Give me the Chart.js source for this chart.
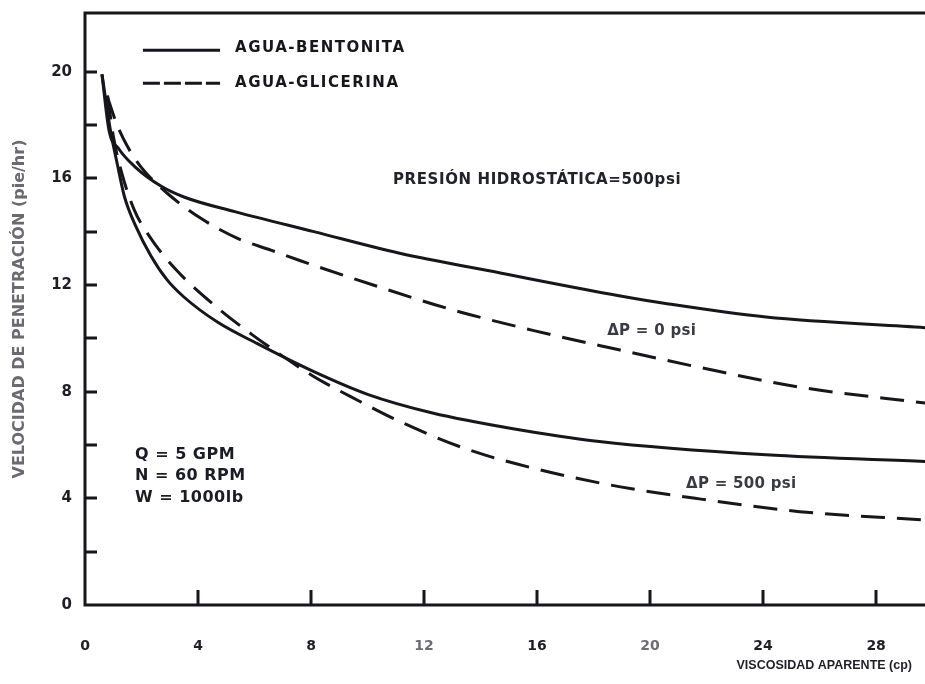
<!DOCTYPE html>
<html><head><meta charset="utf-8">
<script src="https://cdn.jsdelivr.net/npm/chart.js@4.4.1/dist/chart.umd.min.js"></script>
<style>html,body{margin:0;padding:0;background:#fff}</style>
</head><body>
<canvas id="c" width="925" height="684"></canvas>
<script>
// ---- data ----
const xTickValues = [0, 4, 8, 12, 16, 20, 24, 28];
const yTickValues = [0, 4, 8, 12, 16, 20];
const yMinorTicks = [2, 4, 6, 8, 10, 12, 14, 16, 18, 20];

const bentonita0X = [0.6, 0.85, 1.2, 1.75, 2.7, 3.5, 5.3, 8.1, 11.1, 14.7, 18.9, 20.6, 24.1, 29.75];
const bentonita0Y = [19.9, 17.8, 17.1, 16.45, 15.7, 15.3, 14.75, 14.0, 13.2, 12.45, 11.6, 11.3, 10.8, 10.4];

const glicerina0X = [0.78, 1.1, 1.5, 2.0, 2.9, 4.1, 5.4, 6.6, 7.6, 10.2, 12.9, 15.85, 18.9, 21.8, 25.3, 29.75];
const glicerina0Y = [19.1, 18.1, 17.2, 16.4, 15.45, 14.5, 13.75, 13.3, 12.92, 12.0, 11.1, 10.3, 9.57, 8.9, 8.17, 7.57];

const bentonita500X = [0.6, 0.9, 1.15, 1.4, 1.8, 2.33, 2.9, 3.5, 4.7, 6.1, 8.1, 10.0, 12.3, 15.1, 18.2, 24.1, 29.75];
const bentonita500Y = [19.9, 17.8, 16.5, 15.3, 14.2, 13.1, 12.2, 11.55, 10.6, 9.8, 8.75, 7.9, 7.2, 6.62, 6.13, 5.63, 5.38];

const glicerina500X = [0.8, 1.0, 1.3, 1.75, 2.33, 3.2, 4.68, 5.9, 6.4, 8.05, 9.7, 11.1, 13.5, 16.1, 18.9, 21.8, 25.3, 29.75];
const glicerina500Y = [19.1, 17.6, 16.2, 14.8, 13.75, 12.6, 11.15, 10.15, 9.77, 8.6, 7.65, 6.9, 5.85, 5.07, 4.44, 3.97, 3.5, 3.19];

const seriesNames = ['AGUA-BENTONITA', 'AGUA-GLICERINA'];
const conditionLines = ['Q = 5 GPM', 'N = 60 RPM', 'W = 1000lb'];
const pressureNote = 'PRESIÓN HIDROSTÁTICA=500psi';
const curveNotes = ['ΔP = 0 psi', 'ΔP = 500 psi'];
const xTitle = 'VISCOSIDAD APARENTE (cp)';
const yTitle = 'VELOCIDAD DE PENETRACIÓN (pie/hr)';

// ---- helpers ----
const pts = (xs, ys) => xs.map((x, i) => ({ x, y: ys[i] }));
const INK = '#16161c';
const DASH = [24, 12];

function ds(label, xs, ys, dashed) {
  return {
    label, data: pts(xs, ys),
    borderColor: INK, borderWidth: 3,
    borderDash: dashed ? DASH : [],
    pointRadius: 0, cubicInterpolationMode: 'monotone',
    fill: false, clip: { left: 0, top: 0, right: 14, bottom: 0 }
  };
}

const decorPlugin = {
  id: 'decor',
  afterDatasetsDraw(chart) {
    const { ctx, chartArea: a, scales: { x, y } } = chart;
    const W = chart.width;
    ctx.save();
    ctx.strokeStyle = INK;
    ctx.lineWidth = 3;
    ctx.lineCap = 'butt';
    // frame: top, left, bottom (right side cut off in reference)
    ctx.beginPath();
    ctx.moveTo(W, a.top); ctx.lineTo(a.left, a.top);
    ctx.lineTo(a.left, a.bottom); ctx.lineTo(W, a.bottom);
    ctx.stroke();
    // inward tick marks
    ctx.beginPath();
    yMinorTicks.forEach(v => { const py = Math.round(y.getPixelForValue(v)); ctx.moveTo(a.left, py); ctx.lineTo(a.left + 12, py); });
    xTickValues.slice(1).forEach(v => { const px = Math.round(x.getPixelForValue(v)); ctx.moveTo(px, a.bottom); ctx.lineTo(px, a.bottom - 15); });
    ctx.stroke();

    // legend
    const lx0 = x.getPixelForValue(2.05), lx1 = x.getPixelForValue(4.78), tx = x.getPixelForValue(5.31);
    const ly = [y.getPixelForValue(20.8), y.getPixelForValue(19.57)];
    ctx.lineWidth = 3;
    ctx.beginPath(); ctx.setLineDash([]); ctx.moveTo(lx0, ly[0]); ctx.lineTo(lx1, ly[0]); ctx.stroke();
    ctx.beginPath(); ctx.setLineDash([17, 4]); ctx.moveTo(lx0, ly[1]); ctx.lineTo(lx1, ly[1]); ctx.stroke();
    ctx.setLineDash([]);
    ctx.fillStyle = INK;
    ctx.textBaseline = 'middle';
    ctx.textAlign = 'left';
    ctx.font = "bold 15px 'DejaVu Sans', sans-serif";
    ctx.letterSpacing = '1.5px';
    ctx.fillText(seriesNames[0], tx, ly[0] - 2);
    ctx.fillText(seriesNames[1], tx, ly[1]);

    // pressure note
    ctx.letterSpacing = '0.6px';
    ctx.fillStyle = '#22222c';
    ctx.fillText(pressureNote, x.getPixelForValue(10.9), y.getPixelForValue(15.94));

    // curve notes
    ctx.letterSpacing = '0.3px';
    ctx.fillStyle = '#3a3a46';
    ctx.fillText(curveNotes[0], x.getPixelForValue(18.48), y.getPixelForValue(10.27));
    ctx.fillText(curveNotes[1], x.getPixelForValue(21.27), y.getPixelForValue(4.54));

    // operating conditions
    ctx.font = "bold 16px 'DejaVu Sans', sans-serif";
    ctx.letterSpacing = '0.5px';
    ctx.fillStyle = '#1c1c26';
    const cy = [5.63, 4.85, 4.03];
    conditionLines.forEach((t, i) => ctx.fillText(t, x.getPixelForValue(1.77), y.getPixelForValue(cy[i])));
    ctx.restore();
  }
};

const lightTicks = [12, 20];

new Chart(document.getElementById('c'), {
  type: 'line',
  data: {
    datasets: [
      ds(seriesNames[0] + ' ΔP=0', bentonita0X, bentonita0Y, false),
      ds(seriesNames[1] + ' ΔP=0', glicerina0X, glicerina0Y, true),
      ds(seriesNames[0] + ' ΔP=500', bentonita500X, bentonita500Y, false),
      ds(seriesNames[1] + ' ΔP=500', glicerina500X, glicerina500Y, true)
    ]
  },
  options: {
    responsive: false,
    animation: false,
    events: [],
    layout: { padding: { left: 0, right: 13, top: 13, bottom: 0 } },
    plugins: { legend: { display: false }, tooltip: { enabled: false } },
    scales: {
      x: {
        type: 'linear', min: 0, max: 29.27,
        afterBuildTicks: s => { s.ticks = xTickValues.map(v => ({ value: v })); },
        afterFit: s => { s.height = 79; s.paddingLeft = 0; s.paddingRight = 0; },
        grid: { display: false, drawTicks: false },
        border: { display: false },
        ticks: { padding: 33,
                 color: c => lightTicks.includes(c.tick && c.tick.value) ? '#6c6c74' : '#1e1e26',
                 font: { family: "'DejaVu Sans', sans-serif", size: 14, weight: 'bold' }, maxRotation: 0 },
        title: { display: true, text: xTitle, align: 'end', color: '#1e1e26',
                 font: { family: "'Liberation Sans', sans-serif", size: 12.5, weight: 'bold' },
                 padding: { top: 0, bottom: 11 } }
      },
      y: {
        type: 'linear', min: 0, max: 22.2,
        afterBuildTicks: s => { s.ticks = yTickValues.map(v => ({ value: v })); },
        afterFit: s => { s.width = 85; s.paddingTop = 0; s.paddingBottom = 0; },
        grid: { display: false, drawTicks: false },
        border: { display: false },
        ticks: { padding: 13, color: '#1e1e26', font: { family: "'DejaVu Sans', sans-serif", size: 15, weight: 'bold' } },
        title: { display: true, text: yTitle, color: '#6a6a70',
                 font: { family: "'DejaVu Sans', sans-serif", size: 16, weight: 'bold' },
                 padding: { top: 10, bottom: 0 } }
      }
    }
  },
  plugins: [decorPlugin]
});
</script>
</body></html>
